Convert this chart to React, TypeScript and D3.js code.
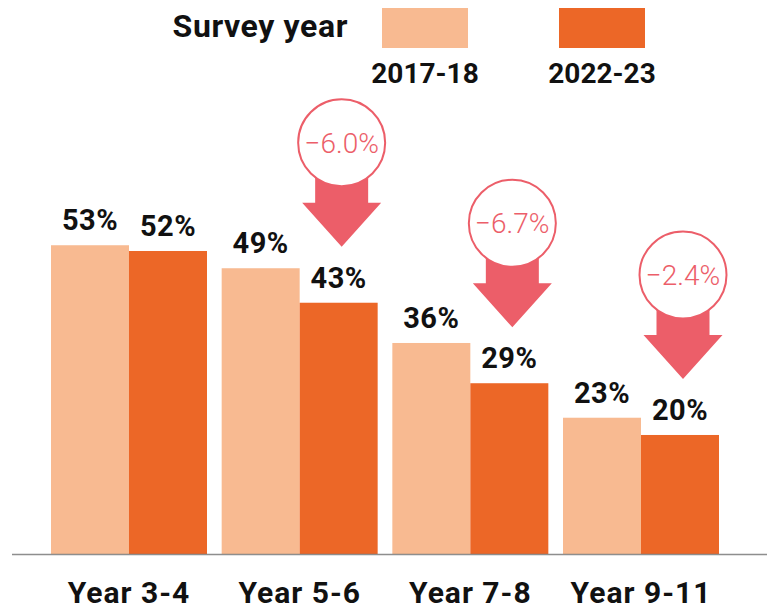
import React from "react";
import * as d3 from "d3";

const categories = ["Year 3-4", "Year 5-6", "Year 7-8", "Year 9-11"];
const seriesNames = ["2017-18", "2022-23"];
const values2017 = [53, 49, 36, 23];
const values2022 = [52, 43, 29, 20];
const changeLabels = [null, "−6.0%", "−6.7%", "−2.4%"];
const legendTitle = "Survey year";

const W = 774;
const H = 609;
const LIGHT = "#F8BA91";
const DARK = "#EC6727";
const RED = "#EC5E69";
const FONT = "Roboto, 'Open Sans', sans-serif";

export default function App() {
  const x0 = d3.scaleBand<string>().domain(categories).range([51, 719]).paddingInner(0.086).paddingOuter(0);
  const x1 = d3.scaleBand<string>().domain(seriesNames).range([0, x0.bandwidth()]).padding(0);
  const y = d3.scaleLinear().domain([-0.7, 100]).range([554, -25]);
  const color = d3.scaleOrdinal<string, string>().domain(seriesNames).range([LIGHT, DARK]);
  const baseY = 554;

  const rows = categories.map((c, i) => ({ cat: c, vals: [values2017[i], values2022[i]], change: changeLabels[i] }));

  return (
    <svg width={W} height={H} style={{ position: "absolute", left: 0, top: 0, display: "block" }} fontFamily={FONT}>
      <rect width={W} height={H} fill="#fff" />
      {/* legend */}
      <text x={348} y={37} textAnchor="end" fontSize={32} fontWeight={700} letterSpacing={0.6} fill="#111">{legendTitle}</text>
      {seriesNames.map((s, i) => {
        const cx = i === 0 ? 425 : 602;
        return (
          <g key={s}>
            <rect x={cx - 43} y={8} width={86} height={40} fill={color(s)} />
            <text x={cx} y={83} textAnchor="middle" fontSize={28} fontWeight={700} fill="#111">{s}</text>
          </g>
        );
      })}
      {/* bars */}
      {rows.map((r) => (
        <g key={r.cat} transform={`translate(${x0(r.cat)},0)`}>
          {r.vals.map((v, j) => {
            const s = seriesNames[j];
            const bx = x1(s)!;
            return (
              <g key={s}>
                <rect x={bx} y={y(v)} width={x1.bandwidth()} height={baseY - y(v)} fill={color(s)} />
                <text x={bx + x1.bandwidth() / 2} y={y(v) - 15} textAnchor="middle" fontSize={29} fontWeight={700} letterSpacing={0.5} fill="#111">{v}%</text>
              </g>
            );
          })}
        </g>
      ))}
      <line x1={12} x2={767} y1={554.5} y2={554.5} stroke="#7a7a7a" strokeOpacity={0.85} strokeWidth={1.5} />
      {/* category labels */}
      {categories.map((c) => (
        <text key={c} x={x0(c)! + x0.bandwidth() / 2} y={603} textAnchor="middle" fontSize={30} fontWeight={700} letterSpacing={1} fill="#111">{c}</text>
      ))}
      {/* change arrows */}
      {rows.map((r) => {
        if (!r.change) return null;
        const ax = x0(r.cat)! + x1(seriesNames[1])! + x1.bandwidth() / 2 + 3;
        const tip = y(r.vals[1]) - 56;
        const cy = tip - 104;
        const headY = tip - 44;
        const path = d3.path();
        path.moveTo(ax - 26.5, cy);
        path.lineTo(ax + 26.5, cy);
        path.lineTo(ax + 26.5, headY);
        path.lineTo(ax + 39.5, headY);
        path.lineTo(ax, tip);
        path.lineTo(ax - 39.5, headY);
        path.lineTo(ax - 26.5, headY);
        path.closePath();
        return (
          <g key={r.cat + "arrow"}>
            <path d={path.toString()} fill={RED} />
            <circle cx={ax} cy={cy} r={43.5} fill="#fff" stroke={RED} strokeWidth={2} />
            <text x={ax} y={cy + 10} textAnchor="middle" fontSize={28} fontWeight={300} fill={RED}>{r.change}</text>
          </g>
        );
      })}
    </svg>
  );
}
